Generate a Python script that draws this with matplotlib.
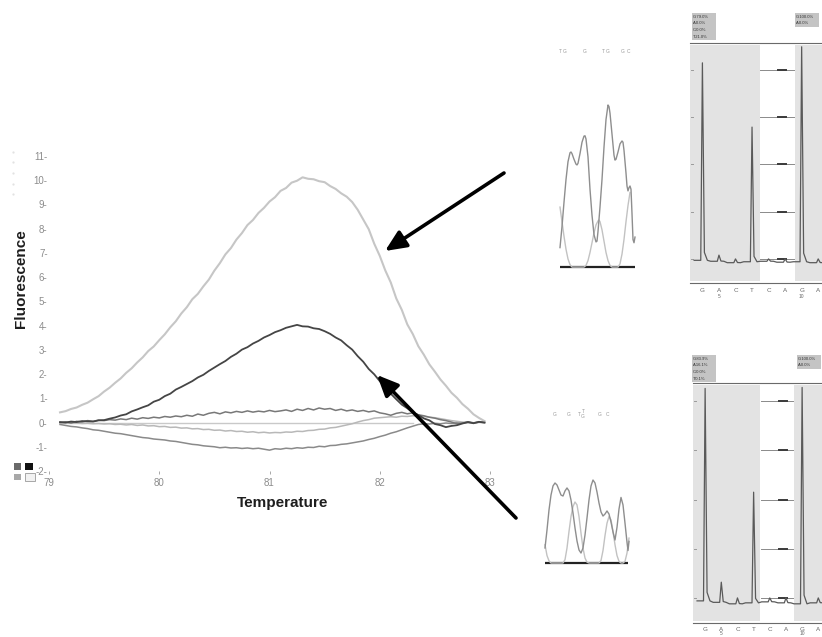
import matplotlib
matplotlib.use("Agg")
import matplotlib.pyplot as plt
import numpy as np
from matplotlib.patches import Rectangle

plt.rcParams['font.family'] = ['Liberation Sans', 'DejaVu Sans']

W, H = 822, 637

# ---- melt curves (-dF/dT) ----
temps = np.linspace(79.10, 82.95, 78)

melt_high = [0.42, 0.47, 0.56, 0.62, 0.73, 0.82, 0.96, 1.09, 1.28, 1.44,
             1.64, 1.82, 2.05, 2.24, 2.48, 2.69, 2.95, 3.14, 3.40, 3.64,
             3.93, 4.18, 4.50, 4.76, 5.09, 5.31, 5.62, 5.90, 6.27, 6.58,
             6.94, 7.20, 7.55, 7.82, 8.15, 8.36, 8.65, 8.86, 9.12, 9.30,
             9.56, 9.68, 9.90, 9.98, 10.12, 10.06, 10.04, 9.96, 9.92, 9.76,
             9.64, 9.46, 9.32, 9.10, 8.78, 8.38, 7.98, 7.38, 6.88, 6.28,
             5.78, 5.12, 4.65, 4.05, 3.65, 3.15, 2.80, 2.40, 2.10, 1.78,
             1.52, 1.23, 1.02, 0.76, 0.57, 0.34, 0.19, 0.06]

melt_mid = [0.02, 0.00, 0.04, 0.02, 0.06, 0.05, 0.04, 0.09, 0.10, 0.16,
            0.21, 0.29, 0.34, 0.46, 0.54, 0.63, 0.71, 0.86, 0.94, 1.09,
            1.19, 1.36, 1.47, 1.59, 1.71, 1.86, 1.97, 2.13, 2.27, 2.41,
            2.54, 2.71, 2.84, 3.01, 3.11, 3.26, 3.37, 3.51, 3.61, 3.73,
            3.81, 3.91, 3.97, 4.03, 3.97, 3.96, 3.89, 3.86, 3.77, 3.66,
            3.51, 3.39, 3.19, 3.01, 2.74, 2.51, 2.21, 1.99, 1.71, 1.46,
            1.19, 0.96, 0.74, 0.59, 0.41, 0.31, 0.17, 0.09, -0.06, -0.11,
            -0.19, -0.14, -0.11, -0.04, 0.02, -0.03, 0.03, 0.00]

melt_pos = [0.00, 0.03, -0.02, 0.05, 0.02, 0.08, 0.05, 0.10, 0.08, 0.12,
            0.10, 0.15, 0.12, 0.18, 0.14, 0.20, 0.17, 0.22, 0.19, 0.25,
            0.22, 0.27, 0.24, 0.30, 0.26, 0.35, 0.30, 0.38, 0.42, 0.36,
            0.44, 0.40, 0.46, 0.42, 0.48, 0.43, 0.47, 0.44, 0.50, 0.45,
            0.48, 0.52, 0.46, 0.55, 0.50, 0.58, 0.52, 0.60, 0.55, 0.58,
            0.50, 0.55, 0.48, 0.52, 0.46, 0.50, 0.44, 0.48, 0.40, 0.36,
            0.30, 0.38, 0.42, 0.36, 0.40, 0.32, 0.28, 0.22, 0.18, 0.12,
            0.08, 0.02, -0.05, -0.02, 0.03, -0.01, 0.02, 0.00]

melt_dip = [-0.02, 0.00, -0.03, -0.02, -0.04, -0.03, -0.05, -0.04, -0.06, -0.05,
            -0.08, -0.07, -0.10, -0.08, -0.12, -0.10, -0.14, -0.13, -0.17, -0.16,
            -0.20, -0.19, -0.23, -0.22, -0.26, -0.25, -0.29, -0.28, -0.32, -0.31,
            -0.35, -0.33, -0.37, -0.36, -0.40, -0.38, -0.42, -0.40, -0.43, -0.41,
            -0.42, -0.39, -0.40, -0.36, -0.37, -0.33, -0.32, -0.28, -0.27, -0.22,
            -0.20, -0.15, -0.10, -0.05, 0.02, 0.08, 0.12, 0.18, 0.20, 0.22,
            0.24, 0.22, 0.26, 0.25, 0.28, 0.26, 0.25, 0.22, 0.20, 0.16,
            0.12, 0.08, 0.05, 0.02, 0.00, -0.02, 0.01, 0.00]

melt_neg = [-0.08, -0.12, -0.16, -0.18, -0.22, -0.25, -0.30, -0.32, -0.36, -0.40,
            -0.44, -0.46, -0.50, -0.54, -0.58, -0.62, -0.64, -0.68, -0.70, -0.72,
            -0.76, -0.78, -0.82, -0.86, -0.90, -0.92, -0.96, -0.98, -1.00, -1.04,
            -1.02, -1.05, -1.04, -1.07, -1.05, -1.08, -1.06, -1.10, -1.14, -1.08,
            -1.10, -1.06, -1.08, -1.04, -1.06, -1.02, -1.03, -0.98, -1.00, -0.95,
            -0.94, -0.90, -0.88, -0.84, -0.80, -0.76, -0.70, -0.65, -0.58, -0.52,
            -0.44, -0.38, -0.30, -0.22, -0.15, -0.08, -0.05, -0.06, -0.03, -0.05,
            -0.02, -0.04, -0.01, -0.03, 0.00, -0.02, 0.01, 0.00]

flat_span = [79.10, 82.30]
flat_ref = [0.0, 0.0]

x_ticks = [79, 80, 81, 82, 83]
y_ticks = list(range(-2, 12))

# ---- sequencing traces (scan index, signal) ----
top_scan_main = [0, 2, 4, 6, 8, 10, 11, 12, 14, 16, 17, 18, 20, 22, 24, 25, 26, 28, 30, 32,
                 34, 36, 37, 38, 40, 42, 44, 46, 48, 49, 50, 52, 54, 55, 56, 58, 60, 62, 63, 64,
                 66, 67, 68, 69, 70, 71, 72, 73, 74, 75]
top_sig_main = [120, 250, 400, 540, 650, 705, 710, 700, 665, 635, 630, 640, 700, 770, 808, 810, 790, 680, 480, 320,
                200, 155, 160, 220, 370, 540, 740, 910, 1000, 990, 950, 820, 690, 660, 665, 710, 760, 778, 770, 720,
                580, 500, 470, 490, 500, 480, 330, 170, 150, 185]
top_scan_light = [0, 2, 4, 6, 8, 10, 12, 24, 26, 28, 30, 32, 34, 36, 38, 39, 40, 42, 44, 46,
                  48, 50, 52, 58, 60, 62, 64, 66, 68, 70]
top_sig_light = [370, 280, 190, 110, 50, 15, 0, 0, 10, 40, 90, 150, 210, 260, 285, 290, 280, 230, 160, 90,
                 40, 10, 0, 0, 20, 80, 170, 280, 380, 460]
top_calls = ['T', 'G', 'G', 'T', 'G', 'G', 'C']
top_call_scan = [0, 5, 25, 43, 48, 63, 68]

bot_scan_main = [0, 2, 4, 6, 8, 10, 12, 14, 16, 18, 20, 22, 24, 26, 28, 30, 32, 34, 36, 38,
                 40, 42, 44, 46, 48, 50, 52, 54, 56, 58, 60, 62, 64, 66, 68, 70, 72, 74, 76, 78,
                 80, 82, 83, 84]
bot_sig_main = [181, 398, 639, 819, 928, 964, 940, 880, 819, 807, 868, 904, 868, 759, 602, 422, 265, 157, 120, 181,
                337, 542, 759, 928, 1000, 964, 855, 723, 615, 566, 590, 627, 590, 494, 374, 277, 430, 650, 790, 700,
                480, 250, 150, 260]
bot_scan_light = [0, 2, 4, 6, 18, 20, 22, 24, 26, 28, 30, 32, 34, 36, 38, 40, 42, 44, 54, 56,
                  58, 60, 62, 64, 66, 68, 70, 72, 74, 76, 78, 80, 82, 84]
bot_sig_light = [220, 90, 25, 0, 0, 40, 180, 380, 560, 680, 735, 700, 560, 360, 180, 60, 10, 0, 0, 30,
                 150, 330, 480, 560, 520, 380, 220, 90, 20, 0, 0, 20, 120, 300]
bot_calls = ['G', 'G', 'T', 'T\nG', 'G', 'C']
bot_call_scan = [10, 24, 34, 38, 55, 63]

# ---- pyrograms ----
dispensation = ['G', 'A', 'C', 'T', 'C', 'A', 'G', 'A']
disp_numbers = {2: '5', 7: '10'}
top_pyro = [4.15, 0.08, 0.0, 2.79, 0.0, 0.0, 4.49, 0.0]
top_base = [-0.03, -0.05, -0.08, -0.06, -0.05, -0.07, -0.06, -0.08]
bot_pyro = [4.26, 0.32, 0.0, 2.15, 0.0, 0.0, 4.28, 0.0]
bot_base = [-0.06, -0.09, -0.12, -0.10, -0.08, -0.10, -0.12, -0.10]
top_boxes = [['G:79.0%', 'A:0.0%', 'C:0.0%', 'T:21.0%'], ['G:100.0%', 'A:0.0%']]
bot_boxes = [['G:83.9%', 'A:16.1%', 'C:0.0%', 'T:0.1%'], ['G:100.0%', 'A:0.0%']]

fig = plt.figure(figsize=(W / 100, H / 100), dpi=100)


def box(x0, y0, x1, y1):
    # pixel box measured from the top-left corner -> figure fraction rect
    return [x0 / W, 1 - y1 / H, (x1 - x0) / W, (y1 - y0) / H]


# melt curve panel
ax = fig.add_axes(box(49, 156, 490, 471))
ax.set_xlim(79, 83)
ax.set_ylim(-2, 11)
for s in ax.spines.values():
    s.set_visible(False)
ax.plot(flat_span, flat_ref, color='#c9c9c9', lw=1.0)
ax.plot(temps, melt_neg, color='#8a8a8a', lw=1.1)
ax.plot(temps, melt_dip, color='#b8b8b8', lw=1.1)
ax.plot(temps, melt_pos, color='#787878', lw=1.1)
ax.plot(temps, melt_high, color='#c6c6c6', lw=1.5)
ax.plot(temps, melt_mid, color='#454545', lw=1.3)
ax.set_xticks(x_ticks)
ax.set_xticklabels([str(t) for t in x_ticks])
ax.set_yticks(y_ticks)
ax.set_yticklabels([f"{v}-" for v in y_ticks])
ax.tick_params(axis='y', length=0, pad=1, labelsize=7, labelcolor='#8c8c8c')
ax.tick_params(axis='x', length=2, width=0.6, color='#9a9a9a', pad=3,
               labelsize=7, labelcolor='#8c8c8c')
fig.text(21 / W, 1 - 279 / H, 'Fluorescence', rotation=90, ha='center', va='center',
         fontsize=11, fontweight='bold', color='#1e1e1e')
fig.text(283 / W, 1 - 503 / H, 'Temperature', ha='center', va='center',
         fontsize=11, fontweight='bold', color='#1e1e1e')


def chromatogram(rect, xlim, ylim, scans, calls, call_y, main, light, base_end):
    cx = fig.add_axes(rect)
    cx.set_xlim(*xlim)
    cx.set_ylim(*ylim)
    cx.axis('off')
    cx.plot([0, base_end], [0, 0], color='#222222', lw=1.6, solid_capstyle='butt')
    cx.plot(light[0], light[1], color='#c2c2c2', lw=1.0)
    cx.plot(main[0], main[1], color='#8e8e8e', lw=1.0)
    for s, c in zip(scans, calls):
        cx.text(s, call_y, c, ha='center', va='center', fontsize=3.5,
                color='#9a9a9a', linespacing=0.8)


chromatogram(box(555, 40, 640, 275), (-5, 80), (-49, 1401), top_call_scan, top_calls, 1333,
             (top_scan_main, top_sig_main), (top_scan_light, top_sig_light), 75)
chromatogram(box(540, 400, 640, 575), (-5, 95), (-144.6, 1963.9), bot_call_scan, bot_calls, 1795,
             (bot_scan_main, bot_sig_main), (bot_scan_light, bot_sig_light), 83)


def pyrogram(rect, ylim, white, heights, base, letter_y, number_y):
    px = fig.add_axes(rect)
    px.set_xlim(0.25, 8.23)
    px.set_ylim(*ylim)
    for side in ('left', 'right'):
        px.spines[side].set_visible(False)
    for side in ('top', 'bottom'):
        px.spines[side].set_color('#6a6a6a')
        px.spines[side].set_linewidth(0.8)
    px.set_xticks([])
    px.set_yticks([])
    px.axvspan(0.25, white[0], ymin=0.01, ymax=0.99, color='#e3e3e3', lw=0)
    px.axvspan(white[1], 8.23, ymin=0.01, ymax=0.99, color='#e3e3e3', lw=0)
    for k in range(5):
        px.plot([white[0] + 0.05, white[1] - 0.05], [k, k], color='#8a8a8a', lw=0.7)
        px.plot([5.55, 6.05], [k, k], color='#3a3a3a', lw=1.4)
        px.plot([0.3, 0.42], [k, k], color='#9a9a9a', lw=0.7)
    xs, ys = [], []
    for i, (h, b) in enumerate(zip(heights, base), start=1):
        xs += [i - 0.5, i - 0.1, i, i + 0.12, i + 0.3]
        ys += [b, b, h, b + 0.04 * (h - b), b]
    px.plot(xs, ys, color='#5a5a5a', lw=0.9)
    for i, d in enumerate(dispensation, start=1):
        px.text(i, letter_y, d, transform=px.get_xaxis_transform(), ha='center', va='center',
                fontsize=4.5, color='#666666')
        if i in disp_numbers:
            px.text(i, number_y, disp_numbers[i], transform=px.get_xaxis_transform(),
                    ha='center', va='center', fontsize=3.5, color='#666666')
    return px


pyrogram(box(690, 43, 822, 283), (-0.51, 4.57), (4.46, 6.57), top_pyro, top_base, -0.03, -0.058)
pyrogram(box(693, 383, 822, 623), (-0.51, 4.37), (4.4, 6.5), bot_pyro, bot_base, -0.027, -0.043)

# overlay in pixel units for arrows, header boxes and the small key
ov = fig.add_axes([0, 0, 1, 1])
ov.set_xlim(0, W)
ov.set_ylim(H, 0)
ov.axis('off')
ov.patch.set_alpha(0)

arrow = dict(arrowstyle='-|>,head_length=0.85,head_width=0.38', lw=2.6, color='black',
             mutation_scale=15, shrinkA=0, shrinkB=0)
ov.annotate('', xy=(385, 251), xytext=(504, 173), arrowprops=arrow)
ov.annotate('', xy=(377, 375), xytext=(516, 518), arrowprops=arrow)

for (bx, by, lines) in [(692, 13, top_boxes[0]), (795, 13, top_boxes[1]),
                        (692, 355, bot_boxes[0]), (797, 355, bot_boxes[1])]:
    bh = 6.5 * len(lines) + 1
    bw = 24
    ov.add_patch(Rectangle((bx, by), bw, bh, facecolor='#c4c4c4', edgecolor='none'))
    for j, t in enumerate(lines):
        ov.text(bx + 1, by + 4 + 6.5 * j, t, fontsize=3, color='#303030', va='center')

# key squares at the lower left
ov.add_patch(Rectangle((25, 463), 8, 7, facecolor='#111111', edgecolor='none'))
ov.add_patch(Rectangle((25, 473), 10, 8, facecolor='#f2f2f2', edgecolor='#9a9a9a', lw=0.6))
ov.add_patch(Rectangle((14, 463), 7, 7, facecolor='#6a6a6a', edgecolor='none'))
ov.add_patch(Rectangle((14, 474), 7, 6, facecolor='#a8a8a8', edgecolor='none'))
ov.plot([13] * 5, [152, 162, 173, 184, 194], 'o', ms=1.6, color='#e2e2e2', mec='none')

fig.savefig('out.png', dpi=100)
